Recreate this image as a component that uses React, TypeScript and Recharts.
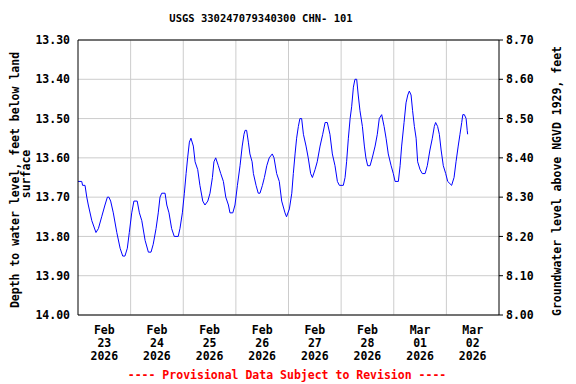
import { LineChart, Line, XAxis, YAxis, CartesianGrid, ReferenceLine, Label } from "recharts";

// hours since Feb 23 2026 00:00, and depth to water (ft)
const hours = [
  0, 1.7, 2.1, 3.2, 4.0, 4.7, 6.3, 8.2, 9.3, 10.8, 12.3, 13.4, 14.1, 14.9, 16.1, 17.7, 19.2, 20.4, 21.4, 22.5,
  23.4, 24.5, 25.5, 27.0, 28.0, 29.1, 30.6, 32.1, 33.3, 34.3, 35.6, 36.6, 37.4, 38.2, 39.7, 40.5, 41.5, 42.7, 43.9, 45.7,
  46.5, 47.6, 48.5, 49.3, 50.0, 50.8, 51.5, 52.6, 53.4, 54.6, 55.6, 56.9, 57.9, 59.2, 60.2, 61.3, 62.0, 62.8, 64.0, 65.1,
  66.3, 67.4, 68.6, 69.3, 70.6, 71.6, 72.7, 73.9, 74.9, 75.7, 76.2, 76.9, 77.7, 78.4, 79.4, 80.0, 81.2, 82.2, 83.0, 84.1,
  85.0, 86.1, 87.2, 88.6, 89.4, 90.6, 91.8, 92.9, 94.4, 95.1, 96.4, 97.5, 98.2, 99.0, 99.7, 100.5, 101.2, 102.0, 102.8, 104.0,
  105.0, 106.1, 106.9, 108.1, 109.1, 110.4, 111.6, 112.7, 113.7, 114.9, 116.0, 117.2, 118.3, 119.2, 121.0, 121.8, 122.5, 123.3, 124.1, 124.8,
  125.6, 126.3, 127.1, 127.8, 128.6, 129.7, 130.6, 131.3, 132.1, 133.2, 134.2, 135.5, 136.5, 137.4, 138.5, 139.6, 140.5, 141.5, 142.8, 143.8,
  144.6, 146.1, 146.9, 147.6, 148.7, 149.6, 150.4, 151.1, 151.9, 152.6, 153.4, 154.2, 154.9, 156.0, 157.0, 158.3, 159.3, 160.5, 161.6, 162.5,
  163.1, 164.0, 164.8, 165.6, 166.6, 167.7, 168.6, 170.4, 171.5, 172.4, 173.4, 174.2, 175.0, 175.5, 176.2, 177.0, 177.5, 177.7,
];
const depth = [
  13.66, 13.66, 13.67, 13.67, 13.70, 13.72, 13.76, 13.79, 13.78, 13.75, 13.72, 13.70, 13.70, 13.71, 13.74, 13.79, 13.83, 13.85, 13.85, 13.83,
  13.79, 13.74, 13.71, 13.71, 13.74, 13.76, 13.81, 13.84, 13.84, 13.82, 13.78, 13.74, 13.70, 13.69, 13.69, 13.72, 13.74, 13.78, 13.80, 13.80,
  13.78, 13.74, 13.69, 13.64, 13.60, 13.56, 13.55, 13.57, 13.61, 13.63, 13.67, 13.71, 13.72, 13.71, 13.69, 13.65, 13.61, 13.60, 13.62, 13.64,
  13.66, 13.70, 13.72, 13.74, 13.74, 13.72, 13.67, 13.62, 13.57, 13.54, 13.53, 13.53, 13.56, 13.59, 13.61, 13.64, 13.67, 13.69, 13.69, 13.67,
  13.65, 13.62, 13.60, 13.59, 13.60, 13.64, 13.66, 13.71, 13.74, 13.75, 13.73, 13.69, 13.64, 13.59, 13.55, 13.52, 13.50, 13.50, 13.54, 13.57,
  13.60, 13.64, 13.65, 13.63, 13.61, 13.57, 13.54, 13.51, 13.51, 13.54, 13.59, 13.62, 13.66, 13.67, 13.67, 13.65, 13.61, 13.55, 13.50, 13.47,
  13.42, 13.40, 13.40, 13.44, 13.48, 13.52, 13.57, 13.60, 13.62, 13.62, 13.60, 13.57, 13.54, 13.50, 13.49, 13.52, 13.55, 13.59, 13.62, 13.64,
  13.66, 13.66, 13.62, 13.57, 13.51, 13.46, 13.44, 13.43, 13.44, 13.48, 13.52, 13.55, 13.61, 13.63, 13.64, 13.64, 13.62, 13.58, 13.55, 13.52,
  13.51, 13.52, 13.54, 13.58, 13.62, 13.64, 13.66, 13.67, 13.65, 13.61, 13.57, 13.54, 13.51, 13.49, 13.49, 13.50, 13.53, 13.54,
];

const tickHours = [12, 36, 60, 84, 108, 132, 156, 180];
const tickMonths = ["Feb", "Feb", "Feb", "Feb", "Feb", "Feb", "Mar", "Mar"];
const tickDays = ["23", "24", "25", "26", "27", "28", "01", "02"];
const tickYear = "2026";
const dayLines = [24, 48, 72, 96, 120, 144, 168];
const depthTicks = [13.3, 13.4, 13.5, 13.6, 13.7, 13.8, 13.9, 14.0];
const elevTicks = [8.0, 8.1, 8.2, 8.3, 8.4, 8.5, 8.6, 8.7];

const data = hours.map((h, i) => ({ h, depth: depth[i] }));

const FONT = "'DejaVu Sans Mono', 'Liberation Mono', monospace";
const tickStyle = { fontFamily: FONT, fontSize: 11.5, fontWeight: "bold", fill: "#000" };

const DateTick = (props: any) => {
  const { x, y, payload } = props;
  const i = tickHours.indexOf(payload.value);
  if (i < 0) return null;
  return (
    <g>
      <text x={x} y={y + 19} textAnchor="middle" style={tickStyle}>{tickMonths[i]}</text>
      <text x={x} y={y + 32} textAnchor="middle" style={tickStyle}>{tickDays[i]}</text>
      <text x={x} y={y + 44.5} textAnchor="middle" style={tickStyle}>{tickYear}</text>
    </g>
  );
};

export default function App() {
  return (
    <div style={{ position: "absolute", left: 0, top: 0, width: 576, height: 384, background: "#fff" }}>
      <LineChart width={576} height={384} data={data} margin={{ top: 40, right: 17, left: 18, bottom: 29 }}>
        <CartesianGrid vertical={false} stroke="#cccccc" yAxisId="left" />
        {dayLines.map((d) => (
          <ReferenceLine key={d} x={d} yAxisId="left" stroke="#cccccc" />
        ))}
        <ReferenceLine y={13.3} yAxisId="left" stroke="#000" />
        <XAxis
          dataKey="h"
          type="number"
          domain={[0, 192]}
          ticks={tickHours}
          tickLine={false}
          tickSize={0}
          tickMargin={0}
          height={40}
          axisLine={{ stroke: "#000" }}
          tick={<DateTick />}
          interval={0}
        />
        <YAxis
          yAxisId="left"
          reversed
          domain={[13.3, 14.0]}
          ticks={depthTicks}
          interval={0}
          width={60}
          tickLine={false}
          tickSize={0}
          tickMargin={8}
          axisLine={{ stroke: "#000" }}
          tick={tickStyle}
          tickFormatter={(v: number) => v.toFixed(2)}
          allowDataOverflow
        >
          <Label
            content={() => (
              <g style={tickStyle}>
                <text transform="translate(18.5,180) rotate(-90)" textAnchor="middle" style={tickStyle}>
                  Depth to water level, feet below land
                </text>
                <text transform="translate(30,174) rotate(-90)" textAnchor="middle" style={tickStyle}>
                  surface
                </text>
              </g>
            )}
          />
        </YAxis>
        <YAxis
          yAxisId="right"
          orientation="right"
          domain={[8.0, 8.7]}
          ticks={elevTicks}
          interval={0}
          width={60}
          tickSize={4}
          tickMargin={3}
          tickLine={{ stroke: "#000" }}
          axisLine={{ stroke: "#000" }}
          tick={{ ...tickStyle, textAnchor: "start" }}
          tickFormatter={(v: number) => v.toFixed(2)}
          allowDataOverflow
        >
          <Label
            content={() => (
              <text transform="translate(561,181) rotate(-90)" textAnchor="middle" style={tickStyle}>
                Groundwater level above NGVD 1929, feet
              </text>
            )}
          />
        </YAxis>
        <Line
          yAxisId="left"
          type="linear"
          dataKey="depth"
          stroke="#0000ff"
          strokeWidth={1}
          dot={false}
          isAnimationActive={false}
        />
      </LineChart>
      <div
        style={{
          position: "absolute", left: 0, top: 12, width: 522, textAlign: "center",
          fontFamily: FONT, fontSize: 10.5, fontWeight: "bold", color: "#000", whiteSpace: "pre",
        }}
      >
        USGS 330247079340300 CHN- 101
      </div>
      <div
        style={{
          position: "absolute", left: 0, top: 368, width: 574, textAlign: "center",
          fontFamily: FONT, fontSize: 11.5, fontWeight: "bold", color: "#ff0000", whiteSpace: "pre",
        }}
      >
        ---- Provisional Data Subject to Revision ----
      </div>
    </div>
  );
}
